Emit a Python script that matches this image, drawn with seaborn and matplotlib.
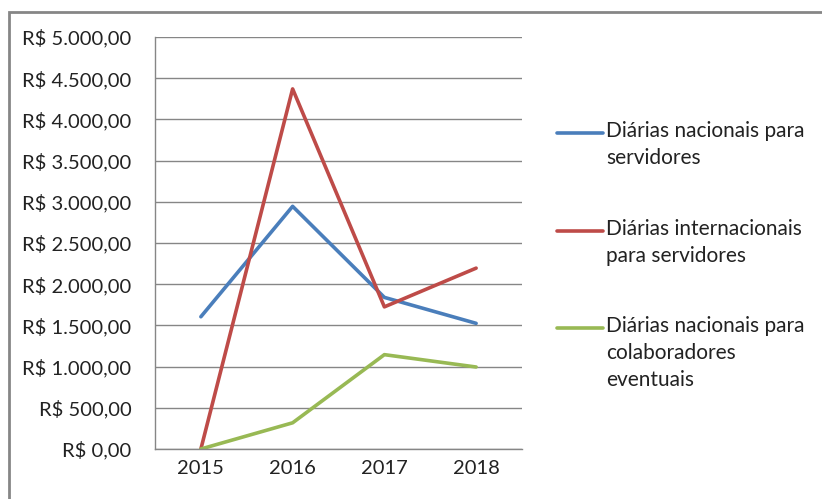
import matplotlib
matplotlib.use("Agg")
import matplotlib.pyplot as plt
import matplotlib.ticker as ticker
from matplotlib.lines import Line2D
from matplotlib.patches import Rectangle
import pandas as pd
import seaborn as sns

anos = ["2015", "2016", "2017", "2018"]
nacionais_servidores = [1605, 2945, 1840, 1525]
internacionais_servidores = [0, 4370, 1725, 2195]
nacionais_colaboradores = [0, 318, 1145, 995]

series = ["Diárias nacionais para\nservidores",
          "Diárias internacionais\npara servidores",
          "Diárias nacionais para\ncolaboradores\neventuais"]
cores = ["#4A7EBB", "#BE4B48", "#98B954"]

sns.set_style("white")
plt.rcParams["font.family"] = ["Lato", "DejaVu Sans"]

rows = []
for nome, vals in zip(series, [nacionais_servidores, internacionais_servidores, nacionais_colaboradores]):
    for i, v in enumerate(vals):
        rows.append({"pos": i, "valor": v, "serie": nome})
df = pd.DataFrame(rows)

fig = plt.figure(figsize=(8.22, 4.99), dpi=100)
ax = fig.add_axes([155 / 822, 50 / 499, 367 / 822, 412 / 499])

sns.lineplot(data=df, x="pos", y="valor", hue="serie", palette=cores,
             linewidth=2.6, legend=False, ax=ax)

ax.set_xlim(-0.5, 3.5)
ax.set_ylim(0, 5000)
ax.set_xticks(range(4))
ax.set_xticklabels(anos)
ax.set_xticks([-0.5, 0.5, 1.5, 2.5, 3.5], minor=True)
ax.tick_params(axis="x", which="major", length=0, pad=8, labelsize=14.5, colors="#222222")
ax.tick_params(axis="x", which="minor", length=7, width=1, color="#868686", direction="out")
ax.set_yticks(range(0, 5001, 500))
ax.yaxis.set_major_formatter(ticker.FuncFormatter(
    lambda v, p: "R$ " + f"{v:,.2f}".replace(",", "X").replace(".", ",").replace("X", ".")))
ax.tick_params(axis="y", length=7, width=1, direction="out",
               labelsize=14.5, pad=10)
ax.tick_params(axis="y", colors="#868686", labelcolor="#222222")
ax.grid(axis="y", color="#868686", linewidth=1)
ax.set_axisbelow(True)
ax.set_xlabel("")
ax.set_ylabel("")
for s in ["top", "right"]:
    ax.spines[s].set_visible(False)
for s in ["left", "bottom"]:
    ax.spines[s].set_color("#868686")
    ax.spines[s].set_linewidth(1)

# legenda no estilo do Excel
leg_y = [133, 231, 328]
for nome, cor, y in zip(series, cores, leg_y):
    fy = 1 - y / 499
    fig.add_artist(Line2D([557 / 822, 603 / 822], [fy, fy], color=cor, linewidth=2.6,
                          transform=fig.transFigure))
    fig.text(606 / 822, fy + 12 / 499, nome, fontsize=15, va="top", ha="left",
             color="#222222", linespacing=1.45)

# moldura do gráfico
fig.add_artist(Rectangle((9 / 822, -0.1), 1.0, 1 - 12 / 499 + 0.1, transform=fig.transFigure,
                         fill=False, edgecolor="#868686", linewidth=2))

fig.savefig("out.png", dpi=100)
